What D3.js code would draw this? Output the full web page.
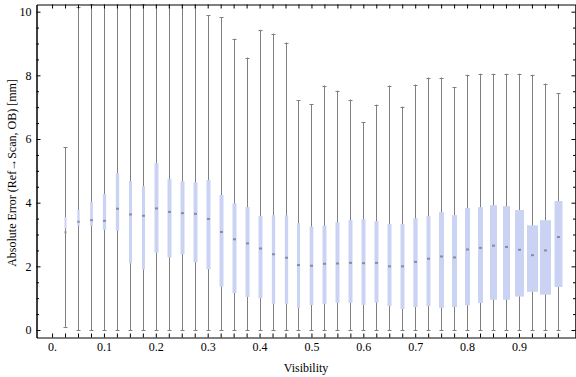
<!DOCTYPE html>
<html>
<head>
<meta charset="utf-8">
<script src="https://cdn.jsdelivr.net/npm/d3@7"></script>
<style>
  body { margin: 0; background: #fff; }
  svg text { font-family: "Liberation Serif", "Times New Roman", serif; fill: #000; }
</style>
</head>
<body>
<div id="chart"></div>
<script>
// visibility bins (box centres)
const visibility = [0.025, 0.05, 0.075, 0.1, 0.125, 0.15, 0.175, 0.2, 0.225, 0.25,
  0.275, 0.3, 0.325, 0.35, 0.375, 0.4, 0.425, 0.45, 0.475, 0.5,
  0.525, 0.55, 0.575, 0.6, 0.625, 0.65, 0.675, 0.7, 0.725, 0.75,
  0.775, 0.8, 0.825, 0.85, 0.875, 0.9, 0.925, 0.95, 0.975];

const whiskerLow = [0.1, 0, 0, 0, 0, 0, 0, 0, 0, 0,
  0, 0, 0, 0, 0, 0, 0, 0, 0, 0,
  0, 0, 0, 0, 0, 0, 0, 0, 0, 0,
  0, 0, 0, 0, 0, 0, 0, 0, 0];

const q1 = [3.19, 3.27, 3.27, 3.15, 3.12, 2.09, 1.90, 2.43, 2.28, 2.38,
  2.13, 1.91, 1.36, 1.16, 1.04, 1.00, 0.81, 0.81, 0.68, 0.78,
  0.82, 0.85, 0.85, 0.79, 0.86, 0.75, 0.66, 0.72, 0.75, 0.70,
  0.72, 0.78, 0.85, 0.95, 0.95, 1.05, 1.20, 1.11, 1.35];

const median = [3.07, 3.40, 3.45, 3.43, 3.81, 3.63, 3.59, 3.82, 3.71, 3.67,
  3.65, 3.49, 3.08, 2.85, 2.72, 2.56, 2.38, 2.27, 2.04, 2.02,
  2.08, 2.09, 2.11, 2.10, 2.11, 2.00, 2.00, 2.14, 2.24, 2.31,
  2.28, 2.53, 2.58, 2.65, 2.61, 2.52, 2.35, 2.50, 2.92];

const q3 = [3.55, 3.78, 4.03, 4.27, 4.93, 4.68, 4.52, 5.24, 4.74, 4.68,
  4.64, 4.71, 4.24, 3.98, 3.86, 3.58, 3.61, 3.60, 3.36, 3.25,
  3.28, 3.39, 3.45, 3.48, 3.42, 3.33, 3.33, 3.51, 3.58, 3.70,
  3.61, 3.83, 3.86, 3.92, 3.89, 3.77, 3.29, 3.45, 4.05];

const whiskerHigh = [5.75, 10.15, 10.25, 10.8, 10.8, 10.8, 10.25, 10.8, 10.8, 10.8,
  10.8, 9.88, 9.82, 9.15, 8.56, 9.43, 9.31, 9.03, 7.22, 7.09,
  7.68, 7.52, 7.24, 6.52, 7.08, 7.68, 7.02, 7.71, 7.93, 7.93,
  7.62, 8.02, 8.05, 8.05, 8.05, 8.05, 8.02, 7.74, 7.43];

// relative sample weight of each bin (drives box width)
const sampleWeight = [2, 2.3, 2.7, 3.3, 3.3, 3, 3, 4, 4, 4,
  4, 4, 4, 4, 4, 4, 3.3, 3.3, 3, 3.7,
  4, 4, 4, 4, 4, 4, 4, 4.3, 4, 5,
  5, 5, 5, 7, 7, 9, 11, 11, 8];

const xTicks = [0, 0.025, 0.05, 0.075, 0.1, 0.125, 0.15, 0.175, 0.2, 0.225,
  0.25, 0.275, 0.3, 0.325, 0.35, 0.375, 0.4, 0.425, 0.45, 0.475,
  0.5, 0.525, 0.55, 0.575, 0.6, 0.625, 0.65, 0.675, 0.7, 0.725,
  0.75, 0.775, 0.8, 0.825, 0.85, 0.875, 0.9, 0.925, 0.95, 0.975];
const xLabels = { 0: "0.", 0.1: "0.1", 0.2: "0.2", 0.3: "0.3", 0.4: "0.4",
  0.5: "0.5", 0.6: "0.6", 0.7: "0.7", 0.8: "0.8", 0.9: "0.9" };
const yMajor = [0, 2, 4, 6, 8, 10];
const yMinor = [0.5, 1, 1.5, 2.5, 3, 3.5, 4.5, 5, 5.5, 6.5, 7, 7.5, 8.5, 9, 9.5];

const W = 576, H = 377;
const plotLeft = 36.5, plotRight = 575.5, plotTop = 4.5, plotBottom = 337.5;

const svg = d3.select("#chart").append("svg")
  .attr("width", W)
  .attr("height", H);

const x = d3.scaleLinear().domain([-0.03, 1.009]).range([plotLeft, plotRight]);
const y = d3.scaleLinear().domain([-0.235, 10.225]).range([plotBottom, plotTop]);
const wScale = d3.scaleLinear().domain([0, 1]).range([0, 1]);

svg.append("clipPath").attr("id", "plotclip")
  .append("rect")
  .attr("x", plotLeft).attr("y", plotTop)
  .attr("width", plotRight - plotLeft).attr("height", plotBottom - plotTop);

const rows = visibility.map((v, i) => ({
  v, lo: whiskerLow[i], q1: q1[i], med: median[i], q3: q3[i], hi: whiskerHigh[i], w: sampleWeight[i]
}));

const plot = svg.append("g").attr("clip-path", "url(#plotclip)");

const cx = d => Math.round(x(d.v)) + 0.5;

// whiskers
plot.selectAll("line.whisker")
  .data(rows)
  .join("line")
  .attr("class", "whisker")
  .attr("x1", cx).attr("x2", cx)
  .attr("y1", d => y(d.lo)).attr("y2", d => y(d.hi))
  .attr("stroke", "#7f7f7f")
  .attr("stroke-width", 1);

// caps
["lo", "hi"].forEach(k => {
  plot.selectAll("line.cap-" + k)
    .data(rows)
    .join("line")
    .attr("class", "cap-" + k)
    .attr("x1", d => cx(d) - 2).attr("x2", d => cx(d) + 2)
    .attr("y1", d => Math.round(y(d[k])) + 0.5)
    .attr("y2", d => Math.round(y(d[k])) + 0.5)
    .attr("stroke", "#7f7f7f")
    .attr("stroke-width", 1);
});

// boxes
plot.selectAll("rect.box")
  .data(rows)
  .join("rect")
  .attr("class", "box")
  .attr("x", d => cx(d) - wScale(d.w) / 2)
  .attr("width", d => wScale(d.w))
  .attr("y", d => y(d.q3))
  .attr("height", d => y(d.q1) - y(d.q3))
  .attr("fill", "#cbd3f5");

// medians
plot.selectAll("rect.med")
  .data(rows)
  .join("rect")
  .attr("class", "med")
  .attr("x", d => cx(d) - Math.min(3, wScale(d.w)) / 2)
  .attr("width", d => Math.min(3, wScale(d.w)))
  .attr("y", d => y(d.med) - 1)
  .attr("height", 2)
  .attr("fill", "#8c8c96");

// frame
const axisStyle = g => {
  g.select(".domain").attr("stroke", "#000");
  g.selectAll(".tick line").attr("stroke", "#000");
  g.selectAll("text").style("font-size", "12px").attr("fill", "#000");
};

svg.append("g")
  .attr("transform", `translate(0,${plotBottom})`)
  .call(d3.axisBottom(x).tickValues(xTicks).tickSizeInner(-4).tickSizeOuter(0).tickPadding(5)
    .tickFormat(d => xLabels[d] || ""))
  .call(axisStyle);

svg.append("g")
  .attr("transform", `translate(0,${plotTop})`)
  .call(d3.axisTop(x).tickValues(xTicks).tickSizeInner(-4).tickSizeOuter(0).tickFormat(""))
  .call(axisStyle);

svg.append("g")
  .attr("transform", `translate(${plotLeft},0)`)
  .call(d3.axisLeft(y).tickValues(yMajor).tickSizeInner(-4).tickSizeOuter(0).tickPadding(5))
  .call(axisStyle);

svg.append("g")
  .attr("transform", `translate(${plotLeft},0)`)
  .call(d3.axisLeft(y).tickValues(yMinor).tickSizeInner(-2.5).tickSizeOuter(0).tickFormat(""))
  .call(axisStyle);

svg.append("g")
  .attr("transform", `translate(${plotRight},0)`)
  .call(d3.axisRight(y).tickValues(yMajor).tickSizeInner(-4).tickSizeOuter(0).tickFormat(""))
  .call(axisStyle);

svg.append("g")
  .attr("transform", `translate(${plotRight},0)`)
  .call(d3.axisRight(y).tickValues(yMinor).tickSizeInner(-2.5).tickSizeOuter(0).tickFormat(""))
  .call(axisStyle);

svg.append("text")
  .attr("x", (plotLeft + plotRight) / 2)
  .attr("y", 372)
  .attr("text-anchor", "middle")
  .style("font-size", "12px")
  .text("Visibility");

svg.append("text")
  .attr("transform", `translate(16,${(plotTop + plotBottom) / 2 + 2}) rotate(-90)`)
  .attr("text-anchor", "middle")
  .style("font-size", "12px")
  .text("Absolute Error (Ref\u2192Scan, OB) [mm]");
</script>
</body>
</html>
